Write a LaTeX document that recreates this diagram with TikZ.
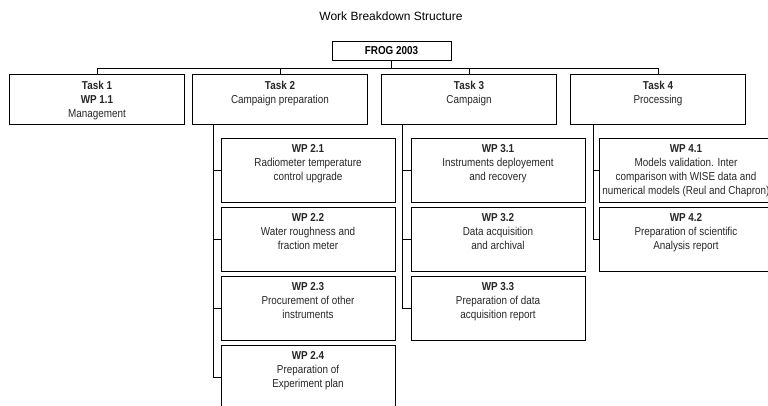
\documentclass[tikz,border=0pt]{standalone}
\usepackage{fontspec}
\setmainfont{Liberation Sans}
\newfontfamily\narrowfont[FakeStretch=0.86]{Liberation Sans}
\usetikzlibrary{positioning}

\begin{document}
\begin{tikzpicture}
      [x=1pt,y=-1pt,line width=0.9pt,
       box/.style={rectangle,draw=black,minimum width=175pt,minimum height=50pt,inner sep=0pt,outer sep=0pt},
       wp/.style={box,minimum width=174pt,minimum height=64pt},
       txt/.style={align=center,inner sep=0pt,text=black!85,font=\narrowfont\fontsize{11.5}{14}\selectfont}]
        \useasboundingbox (0,0) rectangle (768,405);
        \clip (0,0) rectangle (768,405);

        \node (title) at (391,16) [font=\fontsize{12}{14}\selectfont] {Work Breakdown Structure};
        \node (F) at (391.5,50.5) [box,minimum width=119pt,minimum height=19pt,font=\narrowfont\bfseries\fontsize{11.5}{14}\selectfont] {FROG 2003};

        % tasks
        \node (T1) at (97,99) [box] {};
        \node (T2) at (280,99) [box] {};
        \node (T3) at (469,99) [box] {};
        \node (T4) at (658,99) [box] {};
        \node (T1x) [txt,below=6.5pt of T1.north] {\textbf{Task 1}\\\textbf{WP 1.1}\\Management};
        \node (T2x) [txt,below=6.5pt of T2.north] {\textbf{Task 2}\\Campaign preparation};
        \node (T3x) [txt,below=6.5pt of T3.north] {\textbf{Task 3}\\Campaign};
        \node (T4x) [txt,below=6.5pt of T4.north] {\textbf{Task 4}\\Processing};

        % work packages
        \node (W21) at (308,170) [wp] {};
        \node (W22) at (308,239) [wp] {};
        \node (W23) at (308,308) [wp] {};
        \node (W24) at (308,377) [wp] {};
        \node (W31) at (498,170) [wp] {};
        \node (W32) at (498,239) [wp] {};
        \node (W33) at (498,308) [wp] {};
        \node (W41) at (686,170) [wp] {};
        \node (W42) at (686,239) [wp] {};
        \node (W21x) [txt,below=6.5pt of W21.north] {\textbf{WP 2.1}\\Radiometer temperature\\control upgrade};
        \node (W22x) [txt,below=6.5pt of W22.north] {\textbf{WP 2.2}\\Water roughness and\\fraction meter};
        \node (W23x) [txt,below=6.5pt of W23.north] {\textbf{WP 2.3}\\Procurement of other\\instruments};
        \node (W24x) [txt,below=6.5pt of W24.north] {\textbf{WP 2.4}\\Preparation of\\Experiment plan};
        \node (W31x) [txt,below=6.5pt of W31.north] {\textbf{WP 3.1}\\Instruments deployement\\and recovery};
        \node (W32x) [txt,below=6.5pt of W32.north] {\textbf{WP 3.2}\\Data acquisition\\and archival};
        \node (W33x) [txt,below=6.5pt of W33.north] {\textbf{WP 3.3}\\Preparation of data\\acquisition report};
        \node (W41x) [txt,below=6.5pt of W41.north] {\textbf{WP 4.1}\\Models validation. Inter\\comparison with WISE data and\\numerical models (Reul and Chapron)};
        \node (W42x) [txt,below=6.5pt of W42.north] {\textbf{WP 4.2}\\Preparation of scientific\\Analysis report};

        % top level links
        \coordinate (bar) at (0,68);
        \draw (F.south) -- (F.south |- bar);
        \draw (T1.north) |- (bar -| T4.north) -- (T4.north);
        \draw (T2.north) -- (T2.north |- bar);
        \draw (T3.north) -- (T3.north |- bar);

        % task branches
        \coordinate (B2) at ([xshift=21pt]T2.south west);
        \coordinate (B3) at ([xshift=21pt]T3.south west);
        \coordinate (B4) at ([xshift=23pt]T4.south west);
        \draw (B2) |- (W24.west);
        \draw (B2 |- W21.west) -- (W21.west);
        \draw (B2 |- W22.west) -- (W22.west);
        \draw (B2 |- W23.west) -- (W23.west);
        \draw (B3) |- (W33.west);
        \draw (B3 |- W31.west) -- (W31.west);
        \draw (B3 |- W32.west) -- (W32.west);
        \draw (B4) |- (W42.west);
        \draw (B4 |- W41.west) -- (W41.west);
      \end{tikzpicture}
\end{document}
